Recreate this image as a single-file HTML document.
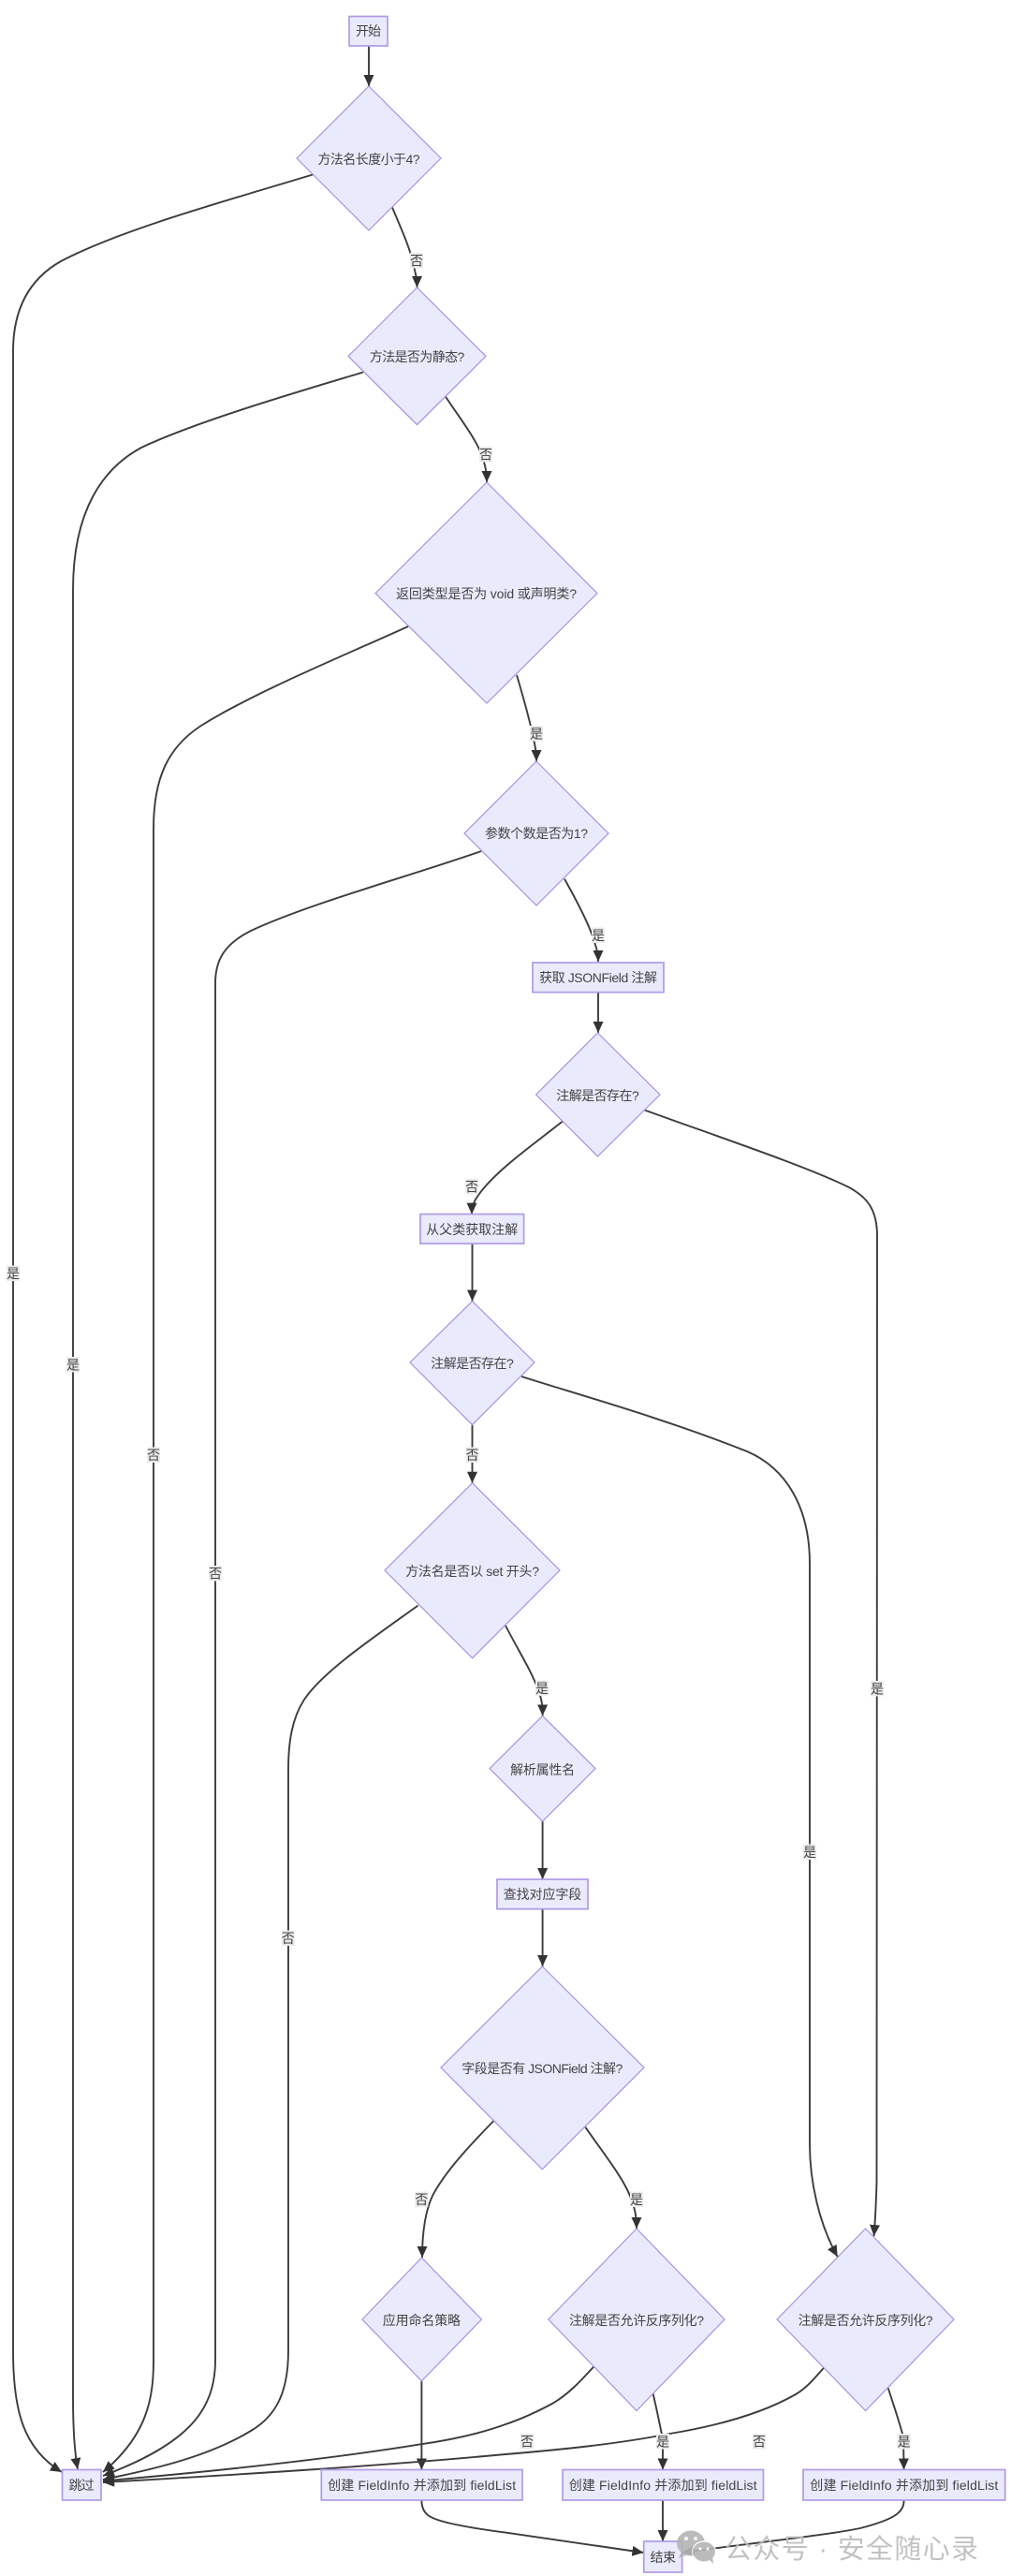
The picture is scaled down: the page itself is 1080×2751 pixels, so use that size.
<!DOCTYPE html>
<html>
<head>
<meta charset="utf-8">
<style>
html,body{margin:0;padding:0;background:#fff;}
svg{display:block;}
text{font-family:"Liberation Sans","Noto Sans CJK SC",sans-serif;font-size:14px;fill:#444;text-anchor:middle;}
.e{fill:none;stroke:#3c3c3c;stroke-width:1.9;marker-end:url(#a);}
.n{fill:#eaeafd;stroke:#a990e2;stroke-width:1.2;}
.r{fill:#eaeafd;stroke:#b09ae6;stroke-width:1.7;}
.l{fill:#ebebeb;}
.w{font-size:29px;fill:#bcbcbc;text-anchor:start;}
</style>
</head>
<body>
<svg xmlns="http://www.w3.org/2000/svg" width="1080" height="2751" viewBox="0 0 1080 2751">
<defs>
<marker id="a" markerUnits="userSpaceOnUse" markerWidth="13" markerHeight="12" refX="12" refY="5.5" orient="auto">
<path d="M0,0 L12,5.5 L0,11 Z" fill="#333"/>
</marker>
</defs>
<rect width="1080" height="2751" fill="#fff"/>

<!-- edges -->
<path class="e" d="M394,49 L394,92"/>
<path class="e" d="M334,186.5 C240,215 130,245 65,279 C35,296 14,325 14,375 L14,2510 C14,2575 25,2615 66,2640"/>
<path class="e" d="M419,221.5 C428,243 438,265 441,280 C444,293 445.5,297 445.5,307"/>
<path class="e" d="M388,397.5 C320,418 210,450 151,478 C110,500 78,545 78,630 L78,2560 C78,2590 79,2615 83,2637"/>
<path class="e" d="M476,423.6 C490,445 510,470 516,490 C519,500 520,505 520,515"/>
<path class="e" d="M436,669 C370,699 270,740 214,775.5 C180,798 164,830 164,885 L164,2520 C164,2560 158,2600 110,2640"/>
<path class="e" d="M552,721 C560,748 566,770 569,785 C572,798 573,803 573,813"/>
<path class="e" d="M514,909 C440,935 330,965 268,994 C240,1008 230,1025 230,1050 L230,2520 C230,2575 200,2610 110,2644"/>
<path class="e" d="M603,938.6 C615,960 628,985 633,1000 C637,1012 639,1017 639,1027"/>
<path class="e" d="M639,1060 L639,1103"/>
<path class="e" d="M601,1197.5 C570,1222 530,1250 512,1275 C506,1283 504,1288 504,1296.6"/>
<path class="e" d="M689,1185.6 C770,1215 860,1245 907,1268 C925,1278 937,1290 937,1320 L936.5,2330 C936,2350 935,2370 933.6,2388"/>
<path class="e" d="M504.5,1328 L504.5,1389.6"/>
<path class="e" d="M504.5,1521.6 L504.5,1583.7"/>
<path class="e" d="M557,1470 C620,1490 710,1515 798,1550 C840,1568 865,1610 865,1670 L865,2290 C865,2330 875,2375 894.7,2410"/>
<path class="e" d="M446.5,1714.6 C400,1748 345,1785 325,1815 C312,1835 308,1860 308,1890 L308,2510 C308,2555 295,2580 268,2596 C225,2622 170,2636 110,2648"/>
<path class="e" d="M540,1736 C555,1765 568,1785 575,1805 C579,1815 579.6,1822 579.6,1832.4"/>
<path class="e" d="M579.6,1945 L579.6,2007"/>
<path class="e" d="M579.6,2038.7 L579.6,2100"/>
<path class="e" d="M527.3,2265 C500,2293 475,2320 462,2345 C455,2360 451,2380 451,2411"/>
<path class="e" d="M625.3,2271.7 C645,2300 665,2325 673,2345 C678,2358 680,2365 680,2380"/>
<path class="e" d="M450.4,2543 L450.4,2637.5"/>
<path class="e" d="M634.7,2527 C620,2543 608,2556 591.6,2566 C575,2575 558,2583 540,2589 C510,2600 480,2606 447.7,2610.6 C340,2628 220,2640 110,2649.5"/>
<path class="e" d="M880,2528.7 C870,2540 862,2550 850,2557 C815,2577 770,2590 715.6,2599 C660,2610 600,2616 540,2621 C400,2634 250,2643 110,2651"/>
<path class="e" d="M697.7,2556.6 C702,2575 706,2595 708,2605 L708,2637.5"/>
<path class="e" d="M948.8,2550.4 C955,2570 962,2590 965,2603 L965.6,2637.5"/>
<path class="e" d="M450.4,2670 C450.4,2686 460,2690 482,2695 C500,2699 520,2702 540,2704.6 L687.4,2726"/>
<path class="e" d="M708,2670 L708,2714"/>
<path class="e" d="M965.6,2670 C965.6,2682 958,2690 918.8,2700 C880,2708 800,2716 729.4,2726"/>

<!-- nodes -->
<rect class="r" x="373" y="17.5" width="41" height="31.5"/>
<text x="393.5" y="38" textLength="27">开始</text>

<polygon class="n" points="394,92 471,169 394,246 317,169"/>
<text x="394" y="175" textLength="109">方法名长度小于4?</text>

<polygon class="n" points="445.5,307 519,380.4 445.5,453.6 372,380.4"/>
<text x="445.5" y="386" textLength="101.6">方法是否为静态?</text>

<polygon class="n" points="520,515 638,633.6 520,751 401,633.6"/>
<text x="519.5" y="639" textLength="193">返回类型是否为 void 或声明类?</text>

<polygon class="n" points="573,813 650,890 573,967 496,890"/>
<text x="573" y="895" textLength="110">参数个数是否为1?</text>

<rect class="r" x="569" y="1028" width="140" height="31.7"/>
<text x="639" y="1049" textLength="126">获取 JSONField 注解</text>

<polygon class="n" points="638.5,1103 705,1169 638.5,1235 572.6,1169"/>
<text x="638.5" y="1175" textLength="88.5">注解是否存在?</text>

<rect class="r" x="449" y="1296.6" width="110.6" height="31.5"/>
<text x="504.3" y="1318" textLength="98">从父类获取注解</text>

<polygon class="n" points="504.5,1389.6 571,1455 504.5,1521.6 438,1455"/>
<text x="504.5" y="1461" textLength="88.5">注解是否存在?</text>

<polygon class="n" points="504.6,1583.7 598,1677 504.6,1770.8 411,1677"/>
<text x="504.6" y="1683" textLength="143">方法名是否以 set 开头?</text>

<polygon class="n" points="579.6,1832.4 636,1888.7 579.6,1945 523,1888.7"/>
<text x="579.6" y="1895" textLength="69">解析属性名</text>

<rect class="r" x="531" y="2007" width="97" height="31.7"/>
<text x="579.5" y="2028" textLength="83.5">查找对应字段</text>

<polygon class="n" points="579.3,2100 688,2208 579.3,2316.7 471,2208"/>
<text x="579.3" y="2214" textLength="172">字段是否有 JSONField 注解?</text>

<polygon class="n" points="450.4,2411 514.5,2477 450.4,2542.8 387,2477"/>
<text x="450.4" y="2483" textLength="83.3">应用命名策略</text>

<polygon class="n" points="680,2380 774,2477 680,2574.5 585.8,2477"/>
<text x="680" y="2483" textLength="144">注解是否允许反序列化?</text>

<polygon class="n" points="924.6,2380 1019,2477 924.6,2574.5 830,2477"/>
<text x="924.6" y="2483" textLength="144">注解是否允许反序列化?</text>

<rect class="r" x="66.5" y="2637.5" width="41.5" height="32.5"/>
<text x="87" y="2659" textLength="27">跳过</text>

<rect class="r" x="343.3" y="2637.5" width="214.7" height="32.5"/>
<text x="450.6" y="2659" textLength="201">创建 FieldInfo 并添加到 fieldList</text>

<rect class="r" x="601" y="2637.5" width="214.5" height="32.5"/>
<text x="708.2" y="2659" textLength="201">创建 FieldInfo 并添加到 fieldList</text>

<rect class="r" x="858" y="2637.5" width="215.7" height="32.5"/>
<text x="965.8" y="2659" textLength="201">创建 FieldInfo 并添加到 fieldList</text>

<rect class="r" x="687.7" y="2714" width="41" height="33"/>
<text x="708.2" y="2736" textLength="27.5">结束</text>

<!-- edge labels -->
<g>
<rect class="l" x="7" y="1351.5" width="14" height="16.5"/><text x="14" y="1365">是</text>
<rect class="l" x="71" y="1449" width="14" height="16.5"/><text x="78" y="1462.5">是</text>
<rect class="l" x="157" y="1545.5" width="14" height="16.5"/><text x="164" y="1559">否</text>
<rect class="l" x="223" y="1672" width="14" height="16.5"/><text x="230" y="1685.5">否</text>
<rect class="l" x="438" y="270" width="14" height="16.5"/><text x="445" y="283.5">否</text>
<rect class="l" x="512" y="477" width="14" height="16.5"/><text x="519" y="490.5">否</text>
<rect class="l" x="566" y="775" width="14" height="16.5"/><text x="573" y="788.5">是</text>
<rect class="l" x="632" y="990.5" width="14" height="16.5"/><text x="639" y="1004">是</text>
<rect class="l" x="497" y="1259" width="14" height="16.5"/><text x="504" y="1272.5">否</text>
<rect class="l" x="497.5" y="1545.5" width="14" height="16.5"/><text x="504.5" y="1559">否</text>
<rect class="l" x="930" y="1795" width="14" height="16.5"/><text x="937" y="1808.5">是</text>
<rect class="l" x="858" y="1969.5" width="14" height="16.5"/><text x="865" y="1983">是</text>
<rect class="l" x="572" y="1794.5" width="14" height="16.5"/><text x="579" y="1808">是</text>
<rect class="l" x="300.7" y="2061.5" width="14" height="16.5"/><text x="307.7" y="2075">否</text>
<rect class="l" x="443.3" y="2340.5" width="14" height="16.5"/><text x="450.3" y="2354">否</text>
<rect class="l" x="673" y="2340.5" width="14" height="16.5"/><text x="680" y="2354">是</text>
<rect class="l" x="556" y="2599" width="14" height="16.5"/><text x="563" y="2612.5">否</text>
<rect class="l" x="804" y="2599" width="14" height="16.5"/><text x="811" y="2612.5">否</text>
<rect class="l" x="701" y="2599" width="14" height="16.5"/><text x="708" y="2612.5">是</text>
<rect class="l" x="958.6" y="2599" width="14" height="16.5"/><text x="965.6" y="2612.5">是</text>
</g>

<!-- watermark -->
<g opacity="0.9">
<ellipse cx="738" cy="2716" rx="15" ry="13.5" fill="#b4b4b4"/>
<path d="M728,2725 L725,2732 L735,2728 Z" fill="#b4b4b4"/>
<circle cx="733" cy="2711" r="1.9" fill="#fff"/>
<circle cx="743" cy="2711" r="1.9" fill="#fff"/>
<ellipse cx="752" cy="2725" rx="12.5" ry="11" stroke="#fff" stroke-width="1.2" fill="#b4b4b4"/>
<path d="M757,2733 L762,2738 L761,2730 Z" fill="#b4b4b4"/>
<circle cx="748" cy="2722" r="1.6" fill="#fff"/>
<circle cx="756" cy="2722" r="1.6" fill="#fff"/>
<text class="w" x="774" y="2732" textLength="271">公众号 · 安全随心录</text>
</g>
</svg>
</body>
</html>
